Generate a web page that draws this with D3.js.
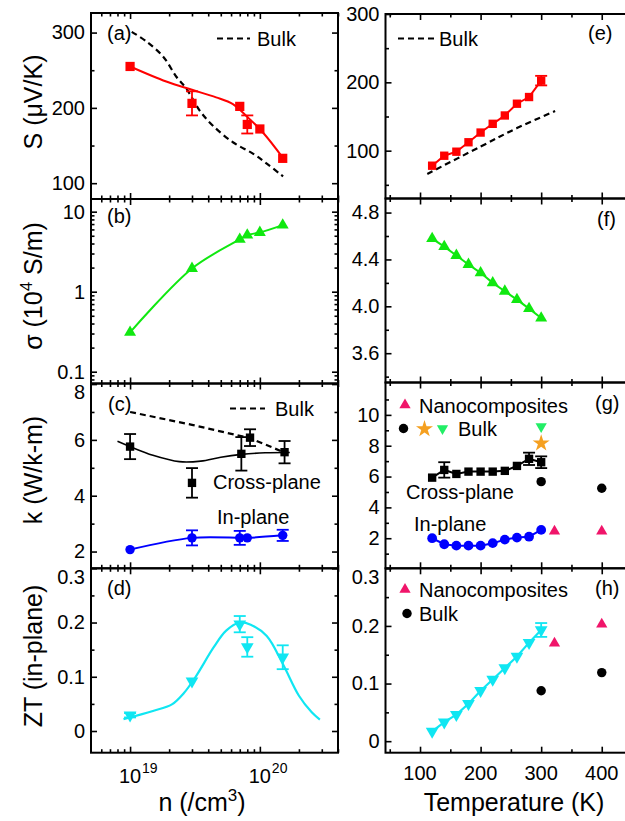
<!DOCTYPE html>
<html><head><meta charset="utf-8">
<script src="https://cdn.jsdelivr.net/npm/d3@7"></script>
<style>body{margin:0;background:#fff}</style>
</head><body>
<script>
// ---------------- DATA ----------------
// (a) Seebeck vs n
const nMeas = [1e19, 3e19, 7e19, 8e19, 1e20, 1.5e20];
const seebeckN = [255, 206, 202, 178, 172, 133];
const seebeckNErr = [0, 16, 0, 12, 0, 0];
const seebeckFitN = [1e19, 1.9e19, 3e19, 4.6e19, 6.2e19, 7.9e19, 1.06e20, 1.5e20];
const seebeckFit = [255, 235, 224, 214, 205, 189, 167, 134];
const seebeckBulkN = [1.03e19, 1.34e19, 1.8e19, 2.28e19, 2.73e19, 3.45e19, 4.37e19, 6.24e19, 8.9e19, 1.13e20, 1.51e20];
const seebeckBulk = [301, 288, 268, 241, 225, 196, 176, 154, 139, 126, 109];
// (b) conductivity vs n
const sigmaN = [0.31, 1.95, 4.5, 5.1, 5.5, 6.8];
// (c) thermal conductivity vs n
const nK = [1e19, 3e19, 7.2e19, 8.4e19, 1.55e20];
const kCrossN = [5.76, 4.46, 5.5, 6.08, 5.56];
const kCrossNErr = [0.45, 0.53, 0.6, 0.3, 0.4];
const kCrossFitN = [8e18, 1e19, 1.5e19, 2.4e19, 3.5e19, 5e19, 7.2e19, 1.1e20, 1.7e20];
const kCrossFit = [5.95, 5.76, 5.45, 5.22, 5.24, 5.38, 5.48, 5.54, 5.55];
const kBulkNx = [1e19, 3e19, 8.4e19, 1.6e20];
const kBulkN = [7.0, 6.54, 6.06, 5.52];
const nKIn = [1e19, 3e19, 7e19, 8e19, 1.5e20];
const kInN = [2.07, 2.49, 2.49, 2.49, 2.58];
const kInNErr = [0, 0.27, 0.25, 0, 0.2];
// (d) ZT vs n
const nZT = [1e19, 3e19, 7e19, 8e19, 1.5e20];
const ztN = [0.029, 0.092, 0.197, 0.155, 0.136];
const ztNErr = [0.004, 0, 0.015, 0.018, 0.022];
const ztFitN = [8.9e18, 1.5e19, 2.1e19, 2.6e19, 3.2e19, 4.4e19, 5.5e19, 7e19, 8.5e19, 1.13e20, 1.5e20, 2e20, 2.5e20, 2.9e20];
const ztFit = [0.022, 0.037, 0.049, 0.07, 0.1, 0.154, 0.185, 0.2, 0.196, 0.175, 0.124, 0.065, 0.035, 0.021];
// (e)-(h) vs temperature
const temps = [120, 140, 160, 180, 200, 220, 240, 260, 280, 300];
const seebeckT = [78, 92.6, 98.5, 112.3, 126.5, 139.3, 151.5, 168.7, 178.5, 202.5];
const seebeckTErr = [0, 0, 0, 0, 0, 0, 0, 0, 0, 7];
const seebeckBulkT = [112, 200, 260, 323];
const seebeckBulkTv = [66, 106, 133, 158];
const sigmaT = [4.578, 4.509, 4.434, 4.357, 4.286, 4.2, 4.129, 4.057, 3.98, 3.9];
const kCrossT = [5.93, 6.43, 6.17, 6.32, 6.32, 6.32, 6.37, 6.69, 7.15, 6.93];
const kCrossTErr = [0, 0.5, 0, 0, 0, 0, 0, 0, 0.4, 0.38];
const kInT = [2.0, 1.61, 1.52, 1.52, 1.52, 1.68, 1.91, 2.04, 2.1, 2.54];
const nanoT = [322, 400];
const kNano = [2.45, 2.45];
const ztNano = [0.17, 0.203];
const bulkHexT = [300, 400];
const kBulkHex = [5.67, 5.24];
const ztBulkHex = [0.0875, 0.119];
const kBulkStarT = [300]; const kBulkStar = [8.16];
const kBulkTriT = [300]; const kBulkTri = [9.24];
const ztT = [0.017, 0.033, 0.046, 0.065, 0.0875, 0.107, 0.127, 0.147, 0.171, 0.193];
const ztTErr = [0, 0, 0, 0, 0, 0, 0, 0, 0, 0.012];

// ---------------- LAYOUT ----------------
const W = 625, H = 821;
const FONT = "'Liberation Sans', Arial, Helvetica, sans-serif";
const LX0 = 91, LX1 = 338, RX0 = 385.5, RX1 = 629;
const LT = [13, 199, 383.5, 568.3], LB = [199, 383.5, 568.3, 752.7];
const RT = [14, 198.5, 382.5, 568.3], RB = [198.5, 382.5, 568.3, 752.7];
const RED = "#ff0000", GREEN = "#10e810", BLUE = "#0000ff", CYAN = "#10e6f2",
      PINK = "#f0156a", ORANGE = "#f5a020", LGREEN = "#22ee66";

const svg = d3.select("body").append("svg").attr("width", W).attr("height", H)
  .style("font-family", FONT).style("background", "#fff");

const xN = d3.scaleLog().domain([5e18, 4e20]).range([LX0, LX1]);
const xT = d3.scaleLinear().domain([43, 445]).range([RX0, RX1]);

const yA = d3.scaleLinear().domain([79, 326]).range([LB[0], LT[0]]);
const yB = d3.scaleLog().domain([0.0712, 14.4]).range([LB[1], LT[1]]);
const yC = d3.scaleLinear().domain([1.4, 8.02]).range([LB[2], LT[2]]);
const yD = d3.scaleLinear().domain([-0.04, 0.3]).range([LB[3], LT[3]]);
const yE = d3.scaleLinear().domain([30, 300]).range([RB[0], RT[0]]);
const yF = d3.scaleLinear().domain([3.35, 4.92]).range([RB[1], RT[1]]);
const yG = d3.scaleLinear().domain([0.05, 12.1]).range([RB[2], RT[2]]);
const yH = d3.scaleLinear().domain([-0.02, 0.3]).range([RB[3], RT[3]]);

const logMajor = [1e19, 1e20];
const logMinor = [6e18, 7e18, 8e18, 9e18, 2e19, 3e19, 4e19, 5e19, 6e19, 7e19, 8e19, 9e19, 2e20, 3e20, 4e20];
const tMajor = [100, 200, 300, 400];
const tMinor = [50, 150, 250, 350];

function styleAxis(g) {
  g.select(".domain").remove();
  g.selectAll("line").attr("stroke", "#000").attr("stroke-width", 1.6);
  g.selectAll("text").style("font-family", FONT).style("font-size", "20px").attr("fill", "#000");
}

// topShift: labels sitting on the panel's top edge are nudged down, as in the reference
function drawYAxis(y, major, minor, fmt, x0, x1, mirror, topShift) {
  const g = svg.append("g");
  const ax = g.append("g").attr("transform", `translate(${x0},0)`)
    .call(d3.axisLeft(y).tickValues(major).tickSize(-6).tickPadding(6).tickFormat(fmt)).call(styleAxis);
  if (topShift) {
    const top = y.range()[1];
    ax.selectAll(".tick").filter(d => Math.abs(y(d) - top) < 3)
      .select("text").attr("y", topShift);
  }
  g.append("g").attr("transform", `translate(${x0},0)`)
    .call(d3.axisLeft(y).tickValues(minor).tickSize(-3.5).tickFormat("")).call(styleAxis);
  if (mirror) {
    g.append("g").attr("transform", `translate(${x1},0)`)
      .call(d3.axisRight(y).tickValues(major).tickSize(-6).tickFormat("")).call(styleAxis);
    g.append("g").attr("transform", `translate(${x1},0)`)
      .call(d3.axisRight(y).tickValues(minor).tickSize(-3.5).tickFormat("")).call(styleAxis);
  }
}
function drawXTicks(x, major, minor, yTop, yBot) {
  const g = svg.append("g");
  g.append("g").attr("transform", `translate(0,${yBot})`)
    .call(d3.axisBottom(x).tickValues(major).tickSize(-6).tickFormat("")).call(styleAxis);
  g.append("g").attr("transform", `translate(0,${yBot})`)
    .call(d3.axisBottom(x).tickValues(minor).tickSize(-3.5).tickFormat("")).call(styleAxis);
  g.append("g").attr("transform", `translate(0,${yTop})`)
    .call(d3.axisTop(x).tickValues(major).tickSize(-6).tickFormat("")).call(styleAxis);
  g.append("g").attr("transform", `translate(0,${yTop})`)
    .call(d3.axisTop(x).tickValues(minor).tickSize(-3.5).tickFormat("")).call(styleAxis);
}
function frame(x0, x1, y0, y1) {
  svg.append("rect").attr("x", x0).attr("y", y0).attr("width", x1 - x0).attr("height", y1 - y0)
    .attr("fill", "none").attr("stroke", "#000").attr("stroke-width", 2);
}
function line(x, y, xs, ys, color, opts = {}) {
  const pts = xs.map((v, i) => [v, ys[i]]);
  svg.append("path").datum(pts)
    .attr("d", d3.line().x(d => x(d[0])).y(d => y(d[1])).curve(opts.curve || d3.curveLinear))
    .attr("fill", "none").attr("stroke", color).attr("stroke-width", opts.width || 2)
    .attr("stroke-dasharray", opts.dash || null);
}
function errbars(x, y, xs, ys, errs, color, cap = 12) {
  const g = svg.append("g").attr("stroke", color).attr("stroke-width", 1.8);
  xs.forEach((v, i) => {
    if (!errs[i]) return;
    const cx = x(v), t = y(ys[i] + errs[i]), b = y(ys[i] - errs[i]);
    g.append("line").attr("x1", cx).attr("x2", cx).attr("y1", t).attr("y2", b);
    g.append("line").attr("x1", cx - cap / 2).attr("x2", cx + cap / 2).attr("y1", t).attr("y2", t);
    g.append("line").attr("x1", cx - cap / 2).attr("x2", cx + cap / 2).attr("y1", b).attr("y2", b);
  });
}
function markers(x, y, xs, ys, type, size, color, rot = 0) {
  const sym = d3.symbol().type(type).size(size);
  svg.append("g").selectAll("path").data(xs.map((v, i) => [v, ys[i]])).join("path")
    .attr("d", sym).attr("fill", color)
    .attr("transform", d => `translate(${x(d[0])},${y(d[1])}) rotate(${rot})`);
}
function legendSym(cx, cy, type, size, color, rot = 0) {
  svg.append("path").attr("d", d3.symbol().type(type).size(size)()).attr("fill", color)
    .attr("transform", `translate(${cx},${cy}) rotate(${rot})`);
}
function txt(x, y, s, size = 20, anchor = "start") {
  return svg.append("text").attr("x", x).attr("y", y).attr("text-anchor", anchor)
    .style("font-size", size + "px").style("font-family", FONT).attr("fill", "#000").text(s);
}

const fmt1 = v => v === 0 ? "0" : d3.format(".1f")(v);
const fmtInt = d3.format("d");

// ---------------- AXES & FRAMES ----------------
drawYAxis(yA, [100, 200, 300], [150, 250], fmtInt, LX0, LX1, true);
drawYAxis(yB, [0.1, 1, 10], [0.08, 0.09, 0.2, 0.3, 0.4, 0.5, 0.6, 0.7, 0.8, 0.9, 2, 3, 4, 5, 6, 7, 8, 9],
  v => v >= 1 ? fmtInt(v) : "0.1", LX0, LX1, true);
drawYAxis(yC, [2, 4, 6, 8], [3, 5, 7], fmtInt, LX0, LX1, true, 8);
drawYAxis(yD, [0, 0.1, 0.2, 0.3], [0.05, 0.15, 0.25], fmt1, LX0, LX1, true, 8.5);
drawYAxis(yE, [100, 200, 300], [50, 150, 250], fmtInt, RX0, RX1, false);
drawYAxis(yF, [3.6, 4.0, 4.4, 4.8], [3.4, 3.8, 4.2, 4.6], d3.format(".1f"), RX0, RX1, false);
drawYAxis(yG, [2, 4, 6, 8, 10], [1, 3, 5, 7, 9, 11], fmtInt, RX0, RX1, false);
drawYAxis(yH, [0, 0.1, 0.2, 0.3], [0.05, 0.15, 0.25], fmt1, RX0, RX1, false, 8.5);
for (let i = 0; i < 4; i++) {
  drawXTicks(xN, logMajor, logMinor, LT[i], LB[i]);
  drawXTicks(xT, tMajor, tMinor, RT[i], RB[i]);
  frame(LX0, LX1, LT[i], LB[i]);
  frame(RX0, RX1, RT[i], RB[i]);
}

// bottom tick labels
logMajor.forEach(v => {
  const e = Math.round(Math.log10(v));
  txt(xN(v), 783, "10", 20, "middle");
  txt(xN(v) + 12, 773, String(e), 14, "start");
});
tMajor.forEach(v => txt(xT(v), 780, String(v), 20, "middle"));

// axis titles
const xt = txt(202, 811, "", 25, "middle");
xt.append("tspan").text("n (/cm");
xt.append("tspan").attr("dy", -10).style("font-size", "17px").text("3");
xt.append("tspan").attr("dy", 10).text(")");
txt(514, 811, "Temperature (K)", 25, "middle");

function ytitle(cy, build) {
  const t = svg.append("text").attr("transform", `translate(42,${cy}) rotate(-90)`)
    .attr("text-anchor", "middle").style("font-size", "25px").style("font-family", FONT).attr("fill", "#000");
  build(t);
}
ytitle(102, t => t.text("S (μV/K)"));
ytitle(286, t => {
  t.append("tspan").text("σ (10");
  t.append("tspan").attr("dy", -10).style("font-size", "17px").text("4");
  t.append("tspan").attr("dy", 10).text(" S/m)");
});
ytitle(470, t => t.text("k (W/k-m)"));
ytitle(656, t => t.text("ZT (in-plane)"));

// panel letters
txt(107, 40, "(a)"); txt(107, 223, "(b)"); txt(108, 411, "(c)"); txt(107, 595, "(d)");
txt(588, 40, "(e)"); txt(597, 226, "(f)"); txt(595, 410, "(g)"); txt(595, 595, "(h)");

// ---------------- (a) ----------------
line(xN, yA, seebeckBulkN, seebeckBulk, "#000", { dash: "6,4", width: 2.2, curve: d3.curveCatmullRom });
line(xN, yA, seebeckFitN, seebeckFit, RED, { curve: d3.curveCatmullRom });
errbars(xN, yA, nMeas, seebeckN, seebeckNErr, RED);
markers(xN, yA, nMeas, seebeckN, d3.symbolSquare, 85, RED);
svg.append("line").attr("x1", 217).attr("x2", 250).attr("y1", 38.5).attr("y2", 38.5)
  .attr("stroke", "#000").attr("stroke-width", 2.2).attr("stroke-dasharray", "6,4");
txt(257, 45.5, "Bulk");

// ---------------- (b) ----------------
line(xN, yB, nMeas, sigmaN, GREEN, { curve: d3.curveCatmullRom });
markers(xN, yB, nMeas, sigmaN, d3.symbolTriangle, 62, GREEN);

// ---------------- (c) ----------------
line(xN, yC, kBulkNx, kBulkN, "#000", { dash: "6,4", width: 2.2 });
line(xN, yC, kCrossFitN, kCrossFit, "#000", { width: 1.6, curve: d3.curveCatmullRom });
errbars(xN, yC, nK, kCrossN, kCrossNErr, "#000");
markers(xN, yC, nK, kCrossN, d3.symbolSquare, 70, "#000");
line(xN, yC, nKIn, kInN, BLUE, { curve: d3.curveCatmullRom });
errbars(xN, yC, nKIn, kInN, kInNErr, BLUE);
markers(xN, yC, nKIn, kInN, d3.symbolCircle, 70, BLUE);
svg.append("line").attr("x1", 230).attr("x2", 265).attr("y1", 408.5).attr("y2", 408.5)
  .attr("stroke", "#000").attr("stroke-width", 2.2).attr("stroke-dasharray", "6,4");
txt(275, 415.5, "Bulk");
txt(213, 489, "Cross-plane");
txt(217, 524, "In-plane");

// ---------------- (d) ----------------
line(xN, yD, ztFitN, ztFit, CYAN, { width: 2.2, curve: d3.curveCatmullRom });
errbars(xN, yD, nZT, ztN, ztNErr, CYAN);
markers(xN, yD, nZT, ztN, d3.symbolTriangle, 70, CYAN, 180);

// ---------------- (e) ----------------
line(xT, yE, seebeckBulkT, seebeckBulkTv, "#000", { dash: "6,4", width: 2.2, curve: d3.curveCatmullRom });
line(xT, yE, temps, seebeckT, RED);
errbars(xT, yE, temps, seebeckT, seebeckTErr, RED);
markers(xT, yE, temps, seebeckT, d3.symbolSquare, 70, RED);
svg.append("line").attr("x1", 398).attr("x2", 435).attr("y1", 38.5).attr("y2", 38.5)
  .attr("stroke", "#000").attr("stroke-width", 2.2).attr("stroke-dasharray", "6,4");
txt(439, 45.5, "Bulk");

// ---------------- (f) ----------------
line(xT, yF, temps, sigmaT, GREEN);
markers(xT, yF, temps, sigmaT, d3.symbolTriangle, 62, GREEN);

// ---------------- (g) ----------------
line(xT, yG, temps, kCrossT, "#000");
errbars(xT, yG, temps, kCrossT, kCrossTErr, "#000");
markers(xT, yG, temps, kCrossT, d3.symbolSquare, 70, "#000");
line(xT, yG, temps, kInT, BLUE);
markers(xT, yG, temps, kInT, d3.symbolCircle, 75, BLUE);
markers(xT, yG, nanoT, kNano, d3.symbolTriangle, 55, PINK);
markers(xT, yG, bulkHexT, kBulkHex, d3.symbolCircle, 70, "#000");
markers(xT, yG, kBulkStarT, kBulkStar, d3.symbolStar, 90, ORANGE);
markers(xT, yG, kBulkTriT, kBulkTri, d3.symbolTriangle, 55, LGREEN, 180);
legendSym(405, 405, d3.symbolTriangle, 55, PINK);
txt(419, 412.5, "Nanocomposites");
legendSym(403.5, 428.5, d3.symbolCircle, 70, "#000");
legendSym(424.5, 429, d3.symbolStar, 90, ORANGE);
legendSym(442.5, 428.5, d3.symbolTriangle, 55, LGREEN, 180);
txt(458, 436, "Bulk");
txt(406, 499, "Cross-plane");
txt(414, 531, "In-plane");

// ---------------- (h) ----------------
line(xT, yH, temps, ztT, CYAN, { width: 2.2 });
errbars(xT, yH, temps, ztT, ztTErr, CYAN);
markers(xT, yH, temps, ztT, d3.symbolTriangle, 70, CYAN, 180);
markers(xT, yH, nanoT, ztNano, d3.symbolTriangle, 55, PINK);
markers(xT, yH, bulkHexT, ztBulkHex, d3.symbolCircle, 70, "#000");
legendSym(405, 589.5, d3.symbolTriangle, 55, PINK);
txt(419, 596.5, "Nanocomposites");
legendSym(407, 613.5, d3.symbolCircle, 70, "#000");
txt(419, 620.5, "Bulk");
</script>
</body></html>
